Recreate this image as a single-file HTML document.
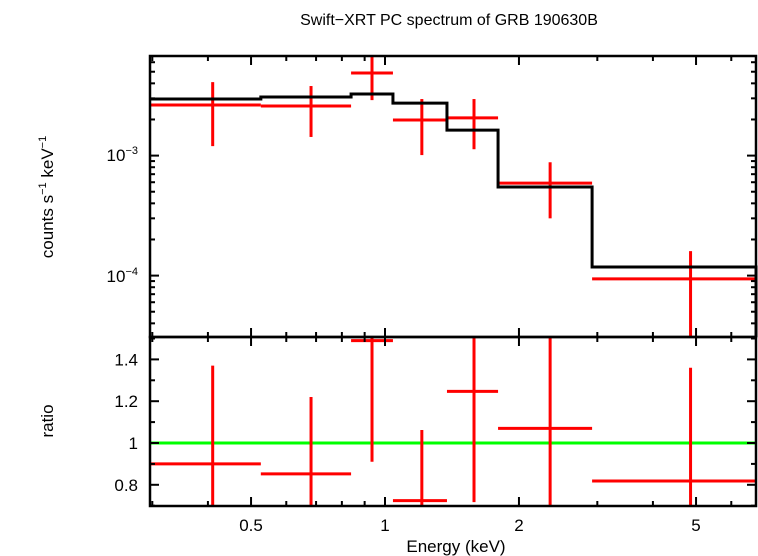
<!DOCTYPE html>
<html><head><meta charset="utf-8"><style>
html,body{margin:0;padding:0;background:#fff;}
svg{display:block;font-family:"Liberation Sans",sans-serif;}
</style></head><body>
<svg id="chart" width="758" height="556" viewBox="0 0 758 556" xmlns="http://www.w3.org/2000/svg">
<text x="449" y="25" font-size="16" text-anchor="middle">Swift−XRT PC spectrum of GRB 190630B</text>
<text x="456" y="552" font-size="17" text-anchor="middle">Energy (keV)</text>
<text transform="translate(53,197) rotate(-90)" font-size="17" text-anchor="middle">counts s<tspan font-size="11" dy="-7">−1</tspan><tspan dy="7"> keV</tspan><tspan font-size="11" dy="-7">−1</tspan></text>
<text transform="translate(53,421) rotate(-90)" font-size="17" text-anchor="middle">ratio</text>
<g id="g"></g>
</svg>
<script>
const binLo = [0.296,0.526,0.839,1.042,1.378,1.795,2.92];
const binHi = [0.526,0.839,1.042,1.378,1.795,2.92,6.82];
const binCenter = [0.41,0.682,0.935,1.21,1.585,2.35,4.86];
const rate = [2.64e-3,2.59e-3,4.88e-3,1.98e-3,2.06e-3,5.9e-4,9.4e-5];
const rateHi = [4.1e-3,3.8e-3,6.8e-3,2.96e-3,2.96e-3,8.8e-4,1.6e-4];
const rateLo = [1.2e-3,1.43e-3,2.9e-3,1.01e-3,1.13e-3,3.0e-4,2e-5];
const model = [2.96e-3,3.08e-3,3.26e-3,2.74e-3,1.63e-3,5.48e-4,1.18e-4];
const ratio = [0.90,0.852,1.49,0.724,1.247,1.07,0.818];
const ratioHi = [1.37,1.22,1.6,1.062,1.6,1.6,1.36];
const ratioLo = [0.6,0.6,0.91,0.6,0.717,0.6,0.6];
const xMajor = [0.5,1,2,5];
const xMajorLabels = ["0.5","1","2","5"];
const xMinor = [0.3,0.4,0.6,0.7,0.8,0.9,3,4,6];
const ratioTicks = [0.8,1.0,1.2,1.4];
const ratioTickLabels = ["0.8","1","1.2","1.4"];
const ratioMinor = [0.7,0.9,1.1,1.3,1.5];

const L=150,R=756,T=56,M=337,B=506;
const X=e=>385+445*Math.log10(e);
const Y=v=>155.6-120*(Math.log10(v)+3);
const YR=r=>443-209*(r-1);
const clipT=y=>Math.max(T,Math.min(M,y));
const clipB=y=>Math.max(M,Math.min(B,y));
const g=document.getElementById('g');
const NS="http://www.w3.org/2000/svg";
function line(x1,y1,x2,y2,c,w,name){
  const l=document.createElementNS(NS,'line');
  l.setAttribute('x1',x1);l.setAttribute('y1',y1);l.setAttribute('x2',x2);l.setAttribute('y2',y2);
  l.setAttribute('stroke',c);l.setAttribute('stroke-width',w);
  
  
  g.appendChild(l);return l;
}
function text(x,y,s,anchor,name){
  const t=document.createElementNS(NS,'text');
  t.setAttribute('x',x);t.setAttribute('y',y);t.setAttribute('font-size','17');t.setAttribute('text-anchor',anchor);
  t.textContent=s;
  
  
  g.appendChild(t);return t;
}
line(L,YR(1),R,YR(1),'#00ff00',3,'unity-line');
for(let i=0;i<rate.length;i++){
  line(X(binLo[i]),Y(rate[i]),X(binHi[i]),Y(rate[i]),'#ff0000',3,'data-point-bar');
  line(X(binCenter[i]),clipT(Y(rateHi[i])),X(binCenter[i]),clipT(Y(rateLo[i])),'#ff0000',3,'data-error-bar');
  const ry=YR(ratio[i]);
  if(ry>=M-2&&ry<=B+2) line(X(binLo[i]),clipB(ry),X(binHi[i]),clipB(ry),'#ff0000',3,'ratio-point-bar');
  line(X(binCenter[i]),clipB(YR(ratioHi[i])),X(binCenter[i]),clipB(YR(ratioLo[i])),'#ff0000',3,'ratio-error-bar');
}
let d='';
for(let i=0;i<model.length;i++){
  const y=Y(model[i]);
  d+=(i===0?'M':'L')+X(binLo[i])+' '+y+' L'+X(binHi[i])+' '+y+' ';
}
d+='L'+X(binHi[model.length-1])+' '+M;
const p=document.createElementNS(NS,'path');
p.setAttribute('d',d);p.setAttribute('fill','none');p.setAttribute('stroke','#000');p.setAttribute('stroke-width','3');


g.appendChild(p);
[[T,M],[M,B]].forEach(([a,b],k)=>{
  const r=document.createElementNS(NS,'rect');
  r.setAttribute('x',L);r.setAttribute('y',a);r.setAttribute('width',R-L);r.setAttribute('height',b-a);
  r.setAttribute('fill','none');r.setAttribute('stroke','#000');r.setAttribute('stroke-width','2.5');
  
  
  g.appendChild(r);
});
xMajor.forEach((v,i)=>{
  const x=X(v);
  [[T,1],[M,-1],[M,1],[B,-1]].forEach(([y,s])=>line(x,y,x,y+s*9,'#000',2,'x-major-tick'));
  text(x,531,xMajorLabels[i],'middle','x-tick-label');
});
xMinor.forEach(v=>{
  const x=X(v);
  [[T,1],[M,-1],[M,1],[B,-1]].forEach(([y,s])=>line(x,y,x,y+s*5,'#000',2,'x-minor-tick'));
});
for(let dec=-5;dec<=-2;dec++){
  for(let m=1;m<=9;m++){
    const v=m*Math.pow(10,dec);const y=Y(v);
    if(y<T||y>M)continue;
    const len=m===1?9:5;
    line(L,y,L+len,y,'#000',2,'y-tick');line(R,y,R-len,y,'#000',2,'y-tick');
  }
}
const t3=text(138,161,'','end','y-tick-label');
t3.innerHTML='10<tspan font-size="11" dy="-7">−3</tspan>';
const t4=text(138,282,'','end','y-tick-label');
t4.innerHTML='10<tspan font-size="11" dy="-7">−4</tspan>';
ratioTicks.forEach((v,i)=>{
  const y=YR(v);
  line(L,y,L+9,y,'#000',2,'ratio-major-tick');line(R,y,R-9,y,'#000',2,'ratio-major-tick');
  text(138,y+6,ratioTickLabels[i],'end','ratio-tick-label');
});
ratioMinor.forEach(v=>{
  const y=YR(v);
  line(L,y,L+5,y,'#000',2,'ratio-minor-tick');line(R,y,R-5,y,'#000',2,'ratio-minor-tick');
});
</script>
</body></html>
